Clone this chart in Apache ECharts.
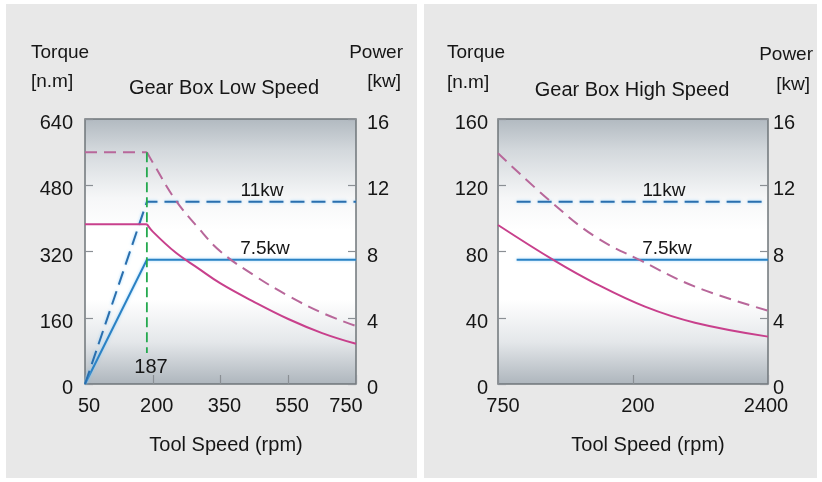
<!DOCTYPE html>
<html>
<head>
<meta charset="utf-8">
<script src="https://cdn.jsdelivr.net/npm/echarts@6/dist/echarts.min.js"></script>
<style>html,body{margin:0;padding:0;background:#fff}#c{width:822px;height:482px}</style>
</head>
<body>
<div id="c"></div>
<script>
// ---- Data ----
// Low speed gearbox: x in rpm, torque in n.m, power in kw
const lowTicks = [50, 200, 350, 550, 750];
const lowTorque11Rpm = [187, 200, 250, 300, 350, 450, 550, 650, 750];
const lowTorque11 =    [560, 535, 445, 378, 320, 262, 213, 172, 140];
const lowTorque75Rpm = [187, 200, 250, 300, 350, 450, 550, 650, 750];
const lowTorque75 =    [386, 368, 318, 280, 243, 198, 157, 123, 97];
const lowFlatRpm = [50, 187];
const lowFlat11 = [560, 560];
const lowFlat75 = [386, 386];
const lowPowerRpm = [50, 187, 750];
const lowPower11 = [0, 11, 11];
const lowPower75 = [0, 7.5, 7.5];
const kneeRpm = 187;
const kneeTorque = [560, 75];

// High speed gearbox: x as position along the (evenly spaced) tick axis
const highTicks = ['750', '200', '2400'];
const highTorque11Pos = [0, 0.397, 0.719, 1.064, 1.459, 2];
const highTorque11 =    [139.3, 109.7, 89, 74.3, 58.8, 44.3];
const highTorque75Pos = [0, 0.422, 0.719, 1.089, 1.459, 2];
const highTorque75 =    [96, 74.3, 60.8, 46.7, 37, 28.6];
const highPower11Pos = [0.138, 1.965];
const highPower11 = [11, 11];
const highPower75Pos = [0.138, 2];
const highPower75 = [7.5, 7.5];

const torqueLow = {min: 0, max: 640, interval: 160};
const torqueHigh = {min: 0, max: 160, interval: 40};
const power = {min: 0, max: 16, interval: 4};

// ---- helpers ----
function lowPos(rpm) {
  for (let i = 0; i < lowTicks.length - 1; i++) {
    if (rpm <= lowTicks[i + 1]) {
      return i + (rpm - lowTicks[i]) / (lowTicks[i + 1] - lowTicks[i]);
    }
  }
  return lowTicks.length - 1;
}
const zipLow = (xs, ys) => xs.map((x, i) => [lowPos(x), ys[i]]);
const zip = (xs, ys) => xs.map((x, i) => [x, ys[i]]);

const FONT = 'Liberation Sans, Arial, Helvetica, sans-serif';
const TXT = '#161616';
const BORDER = '#6f757a';
const PINK = '#c8408c';
const PINKD = '#b8679a';
const BLUE = '#2b82c4';
const BLUED = '#2a6fae';
const GREEN = '#25a94f';

const bg = {
  type: 'linear', x: 0, y: 0, x2: 0, y2: 1,
  colorStops: [
    {offset: 0, color: '#b1b9c0'},
    {offset: 0.12, color: '#d3d8dc'},
    {offset: 0.3, color: '#f6f7f8'},
    {offset: 0.42, color: '#ffffff'},
    {offset: 0.68, color: '#ffffff'},
    {offset: 0.84, color: '#e4e7ea'},
    {offset: 1, color: '#adb5bc'}
  ]
};

function yAx(grid, rng, pos, margin) {
  return {
    type: 'value', gridIndex: grid, position: pos,
    min: rng.min, max: rng.max, interval: rng.interval,
    axisLine: {show: false},
    axisTick: {show: true, inside: true, length: 8, lineStyle: {color: '#8a8f94', width: 1.2}},
    splitLine: {show: false},
    axisLabel: {color: TXT, fontFamily: FONT, fontSize: 20, margin: margin, verticalAlign: 'top', lineHeight: 9}
  };
}

const txt = (x, y, s, align, size) => ({
  type: 'text', x: x, y: y,
  style: {text: s, fill: TXT, font: (size || 19) + 'px ' + FONT, textAlign: align || 'left', textVerticalAlign: 'middle'}
});

const chart = echarts.init(document.getElementById('c'));
chart.setOption({
  backgroundColor: '#ffffff',
  animation: false,
  graphic: [
    {type: 'rect', z: -10, shape: {x: 6, y: 4, width: 411, height: 474}, style: {fill: '#e8e8e8'}},
    {type: 'rect', z: -10, shape: {x: 424, y: 4, width: 393, height: 474}, style: {fill: '#e8e8e8'}},
    txt(31, 53, 'Torque'), txt(31, 82, '[n.m]'),
    txt(403, 53, 'Power', 'right'), txt(401, 82, '[kw]', 'right'),
    txt(224, 88, 'Gear Box Low Speed', 'center', 20),
    txt(226, 445, 'Tool Speed (rpm)', 'center', 20),
    txt(262, 191, '11kw', 'center'), txt(265, 249, '7.5kw', 'center'),
    txt(151, 367, '187', 'center', 20),
    txt(447, 53, 'Torque'), txt(447, 83, '[n.m]'),
    txt(813, 55, 'Power', 'right'), txt(810, 85, '[kw]', 'right'),
    txt(632, 90, 'Gear Box High Speed', 'center', 20),
    txt(648, 445, 'Tool Speed (rpm)', 'center', 20),
    txt(664, 191, '11kw', 'center'), txt(667, 249, '7.5kw', 'center')
  ],
  grid: [
    {left: 85, top: 119, width: 271, height: 265, show: true, backgroundColor: bg, borderColor: BORDER, borderWidth: 1.5},
    {left: 498, top: 119, width: 270, height: 265, show: true, backgroundColor: bg, borderColor: BORDER, borderWidth: 1.5}
  ],
  xAxis: [
    {
      type: 'value', gridIndex: 0, min: 0, max: lowTicks.length - 1, interval: 1,
      axisLine: {show: false}, splitLine: {show: false},
      axisTick: {show: true, inside: true, length: 9, lineStyle: {color: '#8a8f94', width: 1.2}},
      axisLabel: {
        color: TXT, fontFamily: FONT, fontSize: 20, margin: 12,
        formatter: v => v === lowTicks.length - 1 ? '{r|' + lowTicks[v] + '}' : '{n|' + lowTicks[v] + '}',
        rich: {
          n: {fontFamily: FONT, fontSize: 20, color: TXT, padding: [0, 0, 0, 8]},
          r: {fontFamily: FONT, fontSize: 20, color: TXT, padding: [0, 20, 0, 0]}
        }
      }
    },
    {
      type: 'value', gridIndex: 1, min: 0, max: highTicks.length - 1, interval: 1,
      axisLine: {show: false}, splitLine: {show: false},
      axisTick: {show: true, inside: true, length: 9, lineStyle: {color: '#8a8f94', width: 1.2}},
      axisLabel: {
        color: TXT, fontFamily: FONT, fontSize: 20, margin: 12,
        formatter: v => v === highTicks.length - 1 ? '{r|' + highTicks[v] + '}' : '{n|' + highTicks[v] + '}',
        rich: {
          n: {fontFamily: FONT, fontSize: 20, color: TXT, padding: [0, 0, 0, 10]},
          r: {fontFamily: FONT, fontSize: 20, color: TXT, padding: [0, 4, 0, 0]}
        }
      }
    }
  ],
  yAxis: [
    yAx(0, torqueLow, 'left', 12),
    yAx(0, power, 'right', 11),
    yAx(1, torqueHigh, 'left', 10),
    yAx(1, power, 'right', 5)
  ],
  series: [
    // low speed
    {type: 'line', xAxisIndex: 0, yAxisIndex: 1, data: zipLow(lowPowerRpm, lowPower75), symbol: 'none',
      lineStyle: {color: BLUE, width: 2, shadowColor: 'rgba(120,200,255,0.7)', shadowBlur: 3}},
    {type: 'line', xAxisIndex: 0, yAxisIndex: 1, data: zipLow(lowPowerRpm, lowPower11), symbol: 'none',
      lineStyle: {color: BLUED, width: 2, type: [14, 7], shadowColor: 'rgba(120,200,255,0.7)', shadowBlur: 3}},
    {type: 'line', xAxisIndex: 0, yAxisIndex: 0, data: zipLow(lowFlatRpm, lowFlat75), symbol: 'none',
      lineStyle: {color: PINK, width: 2}},
    {type: 'line', xAxisIndex: 0, yAxisIndex: 0, data: zipLow(lowTorque75Rpm, lowTorque75), symbol: 'none', smooth: 0.4,
      lineStyle: {color: PINK, width: 2}},
    {type: 'line', xAxisIndex: 0, yAxisIndex: 0, data: zipLow(lowFlatRpm, lowFlat11), symbol: 'none',
      lineStyle: {color: PINKD, width: 2, type: [12, 7]}},
    {type: 'line', xAxisIndex: 0, yAxisIndex: 0, data: zipLow(lowTorque11Rpm, lowTorque11), symbol: 'none', smooth: 0.4,
      lineStyle: {color: PINKD, width: 2, type: [12, 7]}},
    {type: 'line', xAxisIndex: 0, yAxisIndex: 0, data: zipLow([kneeRpm, kneeRpm], kneeTorque), symbol: 'none',
      lineStyle: {color: GREEN, width: 1.8, type: [10, 5]}},
    // high speed
    {type: 'line', xAxisIndex: 1, yAxisIndex: 3, data: zip(highPower75Pos, highPower75), symbol: 'none',
      lineStyle: {color: BLUE, width: 2, shadowColor: 'rgba(120,200,255,0.7)', shadowBlur: 3}},
    {type: 'line', xAxisIndex: 1, yAxisIndex: 3, data: zip(highPower11Pos, highPower11), symbol: 'none',
      lineStyle: {color: BLUED, width: 2, type: [14, 7], shadowColor: 'rgba(120,200,255,0.7)', shadowBlur: 3}},
    {type: 'line', xAxisIndex: 1, yAxisIndex: 2, data: zip(highTorque75Pos, highTorque75), symbol: 'none', smooth: 0.4,
      lineStyle: {color: PINK, width: 2}},
    {type: 'line', xAxisIndex: 1, yAxisIndex: 2, data: zip(highTorque11Pos, highTorque11), symbol: 'none', smooth: 0.4,
      lineStyle: {color: PINKD, width: 2, type: [12, 7]}}
  ]
});
</script>
</body>
</html>
